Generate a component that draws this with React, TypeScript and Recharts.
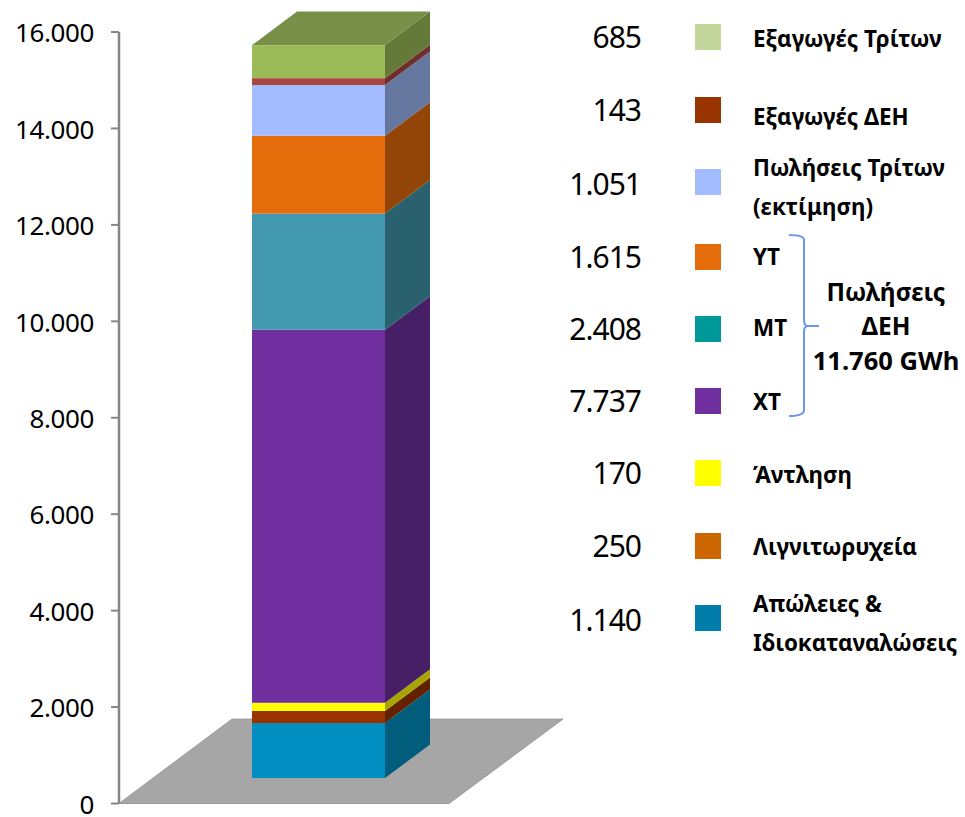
import { BarChart, Bar, XAxis, YAxis, ReferenceArea } from 'recharts';

// bottom to top of the stack
const seriesNames = ['Απώλειες & Ιδιοκαταναλώσεις', 'Λιγνιτωρυχεία', 'Άντληση', 'ΧΤ', 'ΜΤ', 'ΥΤ', 'Πωλήσεις Τρίτων (εκτίμηση)', 'Εξαγωγές ΔΕΗ', 'Εξαγωγές Τρίτων'];
const seriesValues = [1140, 250, 170, 7737, 2408, 1615, 1051, 143, 685];
const valueLabels = ['1.140', '250', '170', '7.737', '2.408', '1.615', '1.051', '143', '685'];
const yTicks = [0, 2000, 4000, 6000, 8000, 10000, 12000, 14000, 16000];

const frontColors = ['#008FC0', '#993300', '#FFFF00', '#7030A0', '#4198AF', '#E46C0A', '#A2BCFF', '#AA4643', '#9BBB59'];
const sideColors = ['#005D7C', '#632100', '#A6A600', '#471F67', '#2A616F', '#924507', '#66779F', '#6F2D2B', '#657A38'];
const swatchColors = ['#007DAB', '#CC6600', '#FFFF00', '#7030A0', '#009999', '#E46C0A', '#A2BCFF', '#993300', '#C3D69B'];
const topColor = '#788F47';

const chartData = [
  Object.fromEntries([['name', 'total'], ...seriesNames.map((n, i) => [n, seriesValues[i]])]),
];

// 3d look of the column
const LIFT = 25.5;
const DEPTH_X = 45;
const DEPTH_Y = 33.5;
const FONT = '"Noto Sans", sans-serif';

const labelLines: { text: string; y: number }[][] = [
  [{ text: 'Απώλειες &', y: 603 }, { text: 'Ιδιοκαταναλώσεις', y: 642 }],
  [{ text: 'Λιγνιτωρυχεία', y: 546 }],
  [{ text: 'Άντληση', y: 474 }],
  [{ text: 'ΧΤ', y: 401 }],
  [{ text: 'ΜΤ', y: 327 }],
  [{ text: 'ΥΤ', y: 256 }],
  [{ text: 'Πωλήσεις Τρίτων', y: 167 }, { text: '(εκτίμηση)', y: 206 }],
  [{ text: 'Εξαγωγές ΔΕΗ', y: 116 }],
  [{ text: 'Εξαγωγές Τρίτων', y: 38 }],
];
const swatchY = [618, 546, 473, 401, 329, 257, 182, 110, 37];
const numberY = [619, 545, 472, 400, 328, 256, 183, 109, 36];

const Column = (props: any) => {
  const { x, y, width, height, index } = props;
  const i = props.seriesIndex;
  const top = y - LIFT;
  const r = x + width;
  return (
    <g>
      <rect x={x} y={top} width={width} height={height} fill={frontColors[i]} />
      <polygon
        points={`${r},${top} ${r + DEPTH_X},${top - DEPTH_Y} ${r + DEPTH_X},${top + height - DEPTH_Y} ${r},${top + height}`}
        fill={sideColors[i]}
      />
      {i === seriesNames.length - 1 && index === 0 && (
        <polygon
          points={`${x},${top} ${x + DEPTH_X},${top - DEPTH_Y} ${r + DEPTH_X},${top - DEPTH_Y} ${r},${top}`}
          fill={topColor}
        />
      )}
    </g>
  );
};

const Floor = (props: any) => {
  const { x, y, height } = props;
  const bottom = y + height;
  return (
    <polygon
      points={`${x},${bottom} ${x + 113},${y} ${x + 444},${y} ${x + 330},${bottom}`}
      fill="#A6A6A6"
      stroke="#9A9A9A"
    />
  );
};

function Legend3d() {
  return (
    <svg width={965} height={817} style={{ position: 'absolute', left: 0, top: 0 }}>
      {seriesNames.map((name, i) => (
        <g key={name}>
          <text x={641} y={numberY[i]} textAnchor="end" dominantBaseline="central" fontFamily={FONT} fontSize={30} letterSpacing={-1} fill="#000">
            {valueLabels[i]}
          </text>
          <rect x={695} y={swatchY[i] - 13} width={26} height={26} fill={swatchColors[i]} />
          {labelLines[i].map((line) => (
            <text key={line.text} x={753} y={line.y} dominantBaseline="central" fontFamily={FONT} fontWeight={700} fontSize={22.4} fill="#000">
              {line.text}
            </text>
          ))}
        </g>
      ))}
      <path d="M789 235 Q804 235 804 240 L804 320 Q804 326 808 326 L819 326 L808 326 Q804 326 804 332 L804 410 Q804 416 789 416" fill="none" stroke="#6C96F0" strokeWidth={2} />
      <g fontFamily={FONT} fontWeight={700} fill="#000" textAnchor="middle">
        <text x={886} y={291} fontSize={24.5} dominantBaseline="central">Πωλήσεις</text>
        <text x={886} y={325} fontSize={24.5} dominantBaseline="central">ΔΕΗ</text>
        <text x={886} y={360} fontSize={25.5} dominantBaseline="central">11.760 GWh</text>
      </g>
    </svg>
  );
}

export default function App() {
  return (
    <div style={{ position: 'absolute', left: 0, top: 0, width: 965, height: 817, background: '#fff' }}>
      <BarChart width={965} height={817} data={chartData} margin={{ top: 32, right: 447, bottom: 13.5, left: 0 }} barSize={133}>
        <XAxis dataKey="name" hide />
        <YAxis
          width={119}
          domain={[0, 16000]}
          ticks={yTicks}
          interval={0}
          tickFormatter={(v: number) => v.toString().replace(/(\d)(?=\d{3}$)/, '$1.')}
          tick={{ fill: '#000', fontSize: 26, fontFamily: FONT, letterSpacing: -0.4, dy: 1 }}
          tickLine={{ stroke: '#868686', strokeWidth: 2 }}
          tickSize={8}
          tickMargin={17}
          axisLine={{ stroke: '#868686', strokeWidth: 2.5 }}
        />
        <ReferenceArea y1={0} y2={1750} shape={<Floor />} />
        {seriesNames.map((name, i) => (
          <Bar
            key={name}
            dataKey={name}
            stackId="total"
            isAnimationActive={false}
            shape={(p: any) => <Column {...p} seriesIndex={i} />}
          />
        ))}
      </BarChart>
      <Legend3d />
    </div>
  );
}
